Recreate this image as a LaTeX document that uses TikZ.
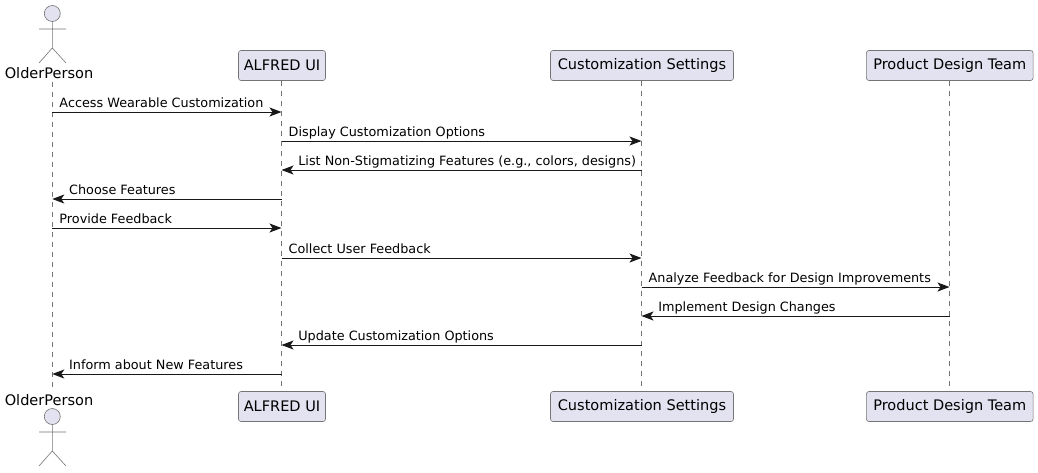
\documentclass[tikz,border=0pt]{standalone}
\usepackage{xcolor}
\usepackage{fontspec}
\setmainfont{DejaVu Sans}
\usetikzlibrary{arrows.meta}
\definecolor{partFill}{HTML}{E2E2F0}
\definecolor{partLine}{HTML}{181818}

\begin{document}
\begin{tikzpicture}[
    x=0.75pt, y=-0.75pt,
    part/.style={rectangle, draw=partLine!60, fill=partFill, rounded corners=1.9pt, line width=0.45pt, minimum height=22.5pt, inner sep=0pt, font=\fontsize{10.9}{12}\selectfont, text=black},
    who/.style={inner sep=0pt, font=\fontsize{10.9}{12}\selectfont, text=black},
    actorline/.style={draw=partLine!60, line width=0.45pt},
    lifeline/.style={draw=partLine!60, line width=0.4pt, dash pattern=on 3.75pt off 3.75pt},
    msg/.style={draw=partLine, line width=0.75pt, -{Stealth[length=9pt, width=6.75pt, inset=2.25pt]}},
    fwd/.style={pos=0, anchor=base west, inner sep=0pt, xshift=5pt, yshift=3.75pt, font=\fontsize{9.6}{12}\selectfont, text=black},
    back/.style={pos=1, anchor=base west, inner sep=0pt, xshift=12.25pt, yshift=3.75pt, font=\fontsize{9.6}{12}\selectfont, text=black},
]
    \useasboundingbox (0,0) rectangle (1038,472);

    % participants
    \node[who] (oldTop) at (49,73.5) {OlderPerson};
    \node[who] (oldBot) at (49,400.5) {OlderPerson};
    \node[part, minimum width=65.25pt] (uiTop) at (282,65.5) {\raisebox{-0.6pt}{ALFRED UI}};
    \node[part, minimum width=137.25pt] (setTop) at (642,65.5) {\raisebox{-0.6pt}{Customization Settings}};
    \node[part, minimum width=125pt] (teamTop) at (949.75,65.5) {\raisebox{-0.6pt}{Product Design Team}};
    \node[part, minimum width=65.25pt] (uiBot) at (282,406.5) {\raisebox{-0.6pt}{ALFRED UI}};
    \node[part, minimum width=137.25pt] (setBot) at (642,406.5) {\raisebox{-0.6pt}{Customization Settings}};
    \node[part, minimum width=125pt] (teamBot) at (949.75,406.5) {\raisebox{-0.6pt}{Product Design Team}};

    % lifeline stops, one per message row
    \foreach \who/\px in {old/52.3, ui/281.5, set/641.5, team/949.5} {
        \foreach \row/\py in {1/112, 2/141, 3/170, 4/199, 5/228, 6/258, 7/287, 8/316, 9/345, 10/374} {
            \coordinate (\who-\row) at (\px,\py);
        }
    }
    \coordinate (oldStart) at (52.3,82);
    \coordinate (oldEnd) at (52.3,391);

    \draw[lifeline] (oldStart) -- (oldEnd);
    \draw[lifeline] (uiTop.south -| ui-1) -- (uiBot.north -| ui-1);
    \draw[lifeline] (setTop.south -| set-1) -- (setBot.north -| set-1);
    \draw[lifeline] (teamTop.south -| team-1) -- (teamBot.north -| team-1);

    % stick figures
    \foreach \top in {0, 403} {
        \begin{scope}[shift={(0,\top)}]
            \draw[actorline, fill=partFill] (52.3,13.5) circle (6pt);
            \draw[actorline] (52.3,21.5) -- (52.3,48) (39,29) -- (66,29) (39,63) -- (52.3,48) -- (66,63);
        \end{scope}
    }

    % messages
    \draw[msg] (old-1) -- node[fwd] (m1) {Access Wearable Customization} (ui-1);
    \draw[msg] (ui-2) -- node[fwd] (m2) {Display Customization Options} (set-2);
    \draw[msg] (set-3) -- node[back] (m3) {List Non-Stigmatizing Features (e.g., colors, designs)} (ui-3);
    \draw[msg] (ui-4) -- node[back] (m4) {Choose Features} (old-4);
    \draw[msg] (old-5) -- node[fwd] (m5) {Provide Feedback} (ui-5);
    \draw[msg] (ui-6) -- node[fwd] (m6) {Collect User Feedback} (set-6);
    \draw[msg] (set-7) -- node[fwd] (m7) {Analyze Feedback for Design Improvements} (team-7);
    \draw[msg] (team-8) -- node[back] (m8) {Implement Design Changes} (set-8);
    \draw[msg] (set-9) -- node[back] (m9) {Update Customization Options} (ui-9);
    \draw[msg] (ui-10) -- node[back] (m10) {Inform about New Features} (old-10);
\end{tikzpicture}
\end{document}
